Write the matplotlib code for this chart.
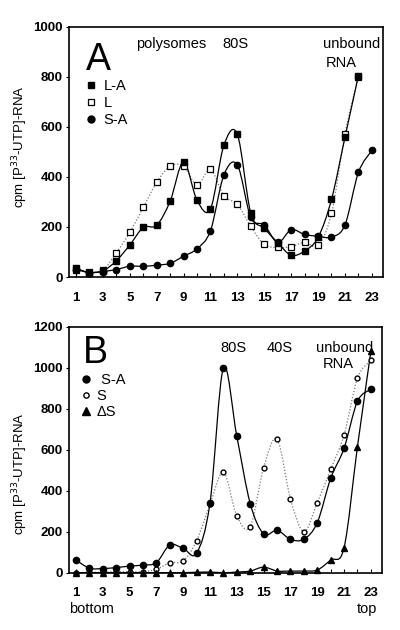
import matplotlib
matplotlib.use("Agg")
import matplotlib.pyplot as plt
from matplotlib.path import Path
from matplotlib.patches import PathPatch
from matplotlib.lines import Line2D
import numpy as np

plt.rcParams['font.family'] = ['Liberation Sans', 'DejaVu Sans']

# fractions (x axis)
fractions = list(range(1, 24))

# panel A
a_LA = [35, 18, 25, 65, 128, 198, 207, 303, 460, 307, 272, 527, 570, 255, 195, 137, 87, 104, 158, 310, 558, 805]
a_L = [30, 20, 28, 97, 178, 278, 378, 443, 443, 368, 430, 325, 290, 202, 130, 118, 121, 139, 126, 254, 572, 800]
a_SA = [30, 18, 22, 30, 43, 43, 47, 55, 83, 113, 185, 408, 448, 238, 208, 138, 189, 170, 163, 160, 208, 418, 506]

# panel B
b_SA = [62, 22, 20, 25, 32, 37, 49, 135, 119, 95, 341, 1000, 665, 337, 189, 207, 163, 163, 244, 460, 607, 836, 894]
b_S = [0, 2, 2, 5, 5, 5, 16, 49, 57, 156, 333, 490, 277, 225, 512, 651, 361, 199, 341, 504, 672, 948, 1037]
b_dS = [0, 0, 0, 0, 0, 0, 0, 0, 0, 2, 3, 0, 3, 8, 27, 8, 8, 8, 13, 62, 122, 615, 1080]

xtick_labels = [str(v) if v % 2 else '' for v in fractions]


def smooth(ax, x, y, **kw):
    # Catmull-Rom curve through the points, drawn as a bezier path
    x = np.asarray(x, float)
    y = np.asarray(y, float)
    n = len(x)
    verts = [(x[0], y[0])]
    codes = [Path.MOVETO]
    for i in range(n - 1):
        p0 = max(i - 1, 0)
        p3 = min(i + 2, n - 1)
        c1 = (x[i] + (x[i + 1] - x[p0]) / 6, y[i] + (y[i + 1] - y[p0]) / 6)
        c2 = (x[i + 1] - (x[p3] - x[i]) / 6, y[i + 1] - (y[p3] - y[i]) / 6)
        verts += [c1, c2, (x[i + 1], y[i + 1])]
        codes += [Path.CURVE4] * 3
    ax.add_patch(PathPatch(Path(verts, codes), fill=False, **kw))


def style_axes(ax, ymax, ystep):
    ax.set_xlim(0.48, 23.83)
    ax.set_ylim(0, ymax)
    ax.set_xticks(fractions)
    ax.set_xticklabels(xtick_labels)
    ax.set_yticks(np.arange(0, ymax + 1, ystep))
    ax.tick_params(axis='x', direction='in', length=3, width=0.8, pad=10.5, labelsize=9.5)
    ax.tick_params(axis='y', direction='out', length=2.5, width=0.8, pad=2, labelsize=9.5)
    for lab in ax.get_xticklabels() + ax.get_yticklabels():
        lab.set_fontweight('bold')
    for s in ax.spines.values():
        s.set_linewidth(1.2)
    ax.set_ylabel('cpm [P$^{33}$-UTP]-RNA', fontsize=9.5)


fig = plt.figure(figsize=(4, 6.3), dpi=100)
axA = fig.add_axes([0.1725, 0.5603, 0.785, 0.397])
axB = fig.add_axes([0.1725, 0.091, 0.7825, 0.3905])

solid = dict(color='black', lw=0.9)
dotted = dict(color='#777777', lw=0.9, linestyle=(0, (1, 1.5)))

# panel A
smooth(axA, fractions[:22], a_L, **dotted)
smooth(axA, fractions[:22], a_LA, **solid)
smooth(axA, fractions, a_SA, **solid)
axA.plot(fractions[:22], a_L, 's', ms=4.5, mfc='white', mec='black', mew=0.9, clip_on=False, zorder=3)
axA.plot(fractions[:22], a_LA, 's', ms=4.5, mfc='black', mec='black', clip_on=False, zorder=4)
axA.plot(fractions, a_SA, 'o', ms=4.5, mfc='black', mec='black', clip_on=False, zorder=4)
style_axes(axA, 1000, 200)
axA.yaxis.set_label_coords(-0.125, 0.52)

axA.text(0.055, 0.828, 'A', transform=axA.transAxes, fontsize=27, va='baseline', ha='left')
axA.text(0.215, 0.96, 'polysomes', transform=axA.transAxes, fontsize=10.5, va='top')
axA.text(0.49, 0.96, '80S', transform=axA.transAxes, fontsize=10.5, va='top')
axA.text(0.81, 0.96, 'unbound', transform=axA.transAxes, fontsize=10.5, va='top')
axA.text(0.818, 0.885, 'RNA', transform=axA.transAxes, fontsize=10.5, va='top')

hA = [Line2D([], [], ls='none', marker='s', ms=5, mfc='black', mec='black'),
      Line2D([], [], ls='none', marker='s', ms=5, mfc='white', mec='black', mew=0.9),
      Line2D([], [], ls='none', marker='o', ms=5, mfc='black', mec='black')]
axA.legend(hA, ['L-A', 'L', 'S-A'], loc='upper left', bbox_to_anchor=(0.05, 0.792),
           frameon=False, fontsize=10.5, handlelength=0.8, handletextpad=0.5,
           labelspacing=0.2, borderpad=0, borderaxespad=0)

# panel B
smooth(axB, fractions, b_S, **dotted)
smooth(axB, fractions, b_SA, **solid)
smooth(axB, fractions, b_dS, **solid)
axB.plot(fractions, b_S, 'o', ms=3.5, mfc='white', mec='black', mew=1.0, clip_on=False, zorder=3)
axB.plot(fractions, b_SA, 'o', ms=4.5, mfc='black', mec='black', clip_on=False, zorder=4)
axB.plot(fractions, b_dS, '^', ms=4.5, mfc='black', mec='black', clip_on=False, zorder=4)
style_axes(axB, 1200, 200)
axB.yaxis.set_label_coords(-0.125, 0.40)

axB.text(0.045, 0.852, 'B', transform=axB.transAxes, fontsize=27, va='baseline', ha='left')
axB.text(0.485, 0.94, '80S', transform=axB.transAxes, fontsize=10.5, va='top')
axB.text(0.63, 0.94, '40S', transform=axB.transAxes, fontsize=10.5, va='top')
axB.text(0.79, 0.94, 'unbound', transform=axB.transAxes, fontsize=10.5, va='top')
axB.text(0.81, 0.875, 'RNA', transform=axB.transAxes, fontsize=10.5, va='top')

hB = [Line2D([], [], ls='none', marker='o', ms=5, mfc='black', mec='black'),
      Line2D([], [], ls='none', marker='o', ms=3.8, mfc='white', mec='black', mew=1.0),
      Line2D([], [], ls='none', marker='^', ms=5.5, mfc='black', mec='black')]
axB.legend(hB, [' S-A', 'S', '\u0394S'], loc='upper left', bbox_to_anchor=(0.035, 0.81),
           frameon=False, fontsize=10.5, handlelength=0.8, handletextpad=0.35,
           labelspacing=0.12, borderpad=0, borderaxespad=0)

axB.text(0.0, -0.12, 'bottom', transform=axB.transAxes, fontsize=10.5, va='top', ha='left')
axB.text(0.985, -0.12, 'top', transform=axB.transAxes, fontsize=10.5, va='top', ha='right')

fig.savefig('out.png', dpi=100)
